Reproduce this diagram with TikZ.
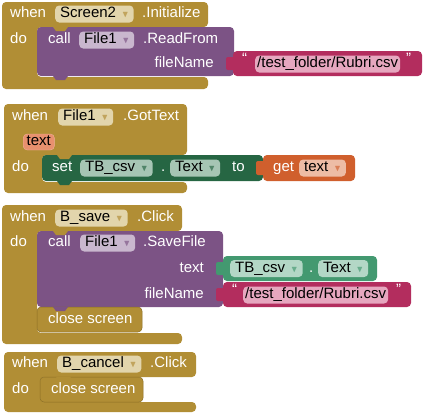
\documentclass[tikz,border=0pt]{standalone}
\usepackage{amssymb}
\usepackage{xcolor}
\usepackage{fontspec}
\setmainfont{Liberation Sans}
\usepackage{tikz}

\definecolor{mustard}{HTML}{B18E35}
\definecolor{mustarddk}{HTML}{8A6C22}
\definecolor{mustardlt}{HTML}{E2D5AC}
\definecolor{purp}{HTML}{7C5385}
\definecolor{purplt}{HTML}{C9B7CE}
\definecolor{pinkblk}{HTML}{B32D5E}
\definecolor{pinklt}{HTML}{E6A7BF}
\definecolor{dgreen}{HTML}{266643}
\definecolor{dgreenlt}{HTML}{A6C5B4}
\definecolor{mgreen}{HTML}{439970}
\definecolor{mgreenlt}{HTML}{B3D7C6}
\definecolor{orng}{HTML}{D05F2D}
\definecolor{orngl}{HTML}{EDBCA5}
\definecolor{salmon}{HTML}{E8906E}

\newcommand{\ddarrow}[1]{\hspace{6pt}{\color{#1}\small$\blacktriangledown$}\hspace{3pt}}

\begin{document}
\begin{tikzpicture}[x=1pt, y=-1pt, font=\fontsize{15}{17}\selectfont,
  txt/.style={text height=10.8pt, text depth=3pt},
  lbl/.style={txt, text=white, inner sep=0pt, anchor=west},
  pill/.style={txt, rounded corners=4pt, inner xsep=5pt, inner ysep=0pt, minimum height=17pt, anchor=west},
  strpill/.style={pill, fill=pinklt, inner xsep=2pt},
  blk/.style={rounded corners=4pt},
  knob/.style={rounded corners=2pt}]
\useasboundingbox (0,0) rectangle (423,413);

% Screen2.Initialize
\fill[mustard, blk] (2,2) -- (208,2) -- (208,27) -- (37,27) -- (37,77) -- (208,77) -- (208,89) -- (2,89) -- cycle;
\fill[purp, blk] (37,27) rectangle (234,76);
\fill[mustard] (53,27) -- ++(3,4) -- ++(9,0) -- ++(3,-4) -- cycle;
\fill[purp] (53,76) -- ++(3,4) -- ++(9,0) -- ++(3,-4) -- cycle;
\fill[pinkblk, blk] (233,51) rectangle (422,76);
\fill[pinkblk, knob] (226,57) rectangle (236,70);
\node[lbl] (when1) at (10,14) {when};
\node[pill, fill=mustardlt] (screen) at (55,14) {Screen2\ddarrow{mustard!80}};
\node[lbl] (init) at (142,14) {.Initialize};
\node[lbl] (do1) at (10,40) {do};
\node[lbl] (call1) at (48,40) {call};
\node[pill, fill=purplt] (file1a) at (79,40) {File1\ddarrow{purp!80}};
\node[lbl] (readfrom) at (143,40) {.ReadFrom};
\node[lbl, anchor=east] (fname1) at (214,64) {fileName};
\node[lbl] (qa) at (242,60) {“};
\node[strpill] (path1) at (255,64) {/test\_folder/Rubri.csv};
\node[lbl] (qb) at (406,60) {”};

% File1.GotText
\fill[mustard, blk] (4,104) -- (187,104) -- (187,155) -- (42,155) -- (42,182) -- (187,182) -- (187,193) -- (4,193) -- cycle;
\fill[dgreen, blk] (42,155) rectangle (263,181);
\fill[mustard] (57,155) -- ++(3,4) -- ++(9,0) -- ++(3,-4) -- cycle;
\fill[dgreen] (57,181) -- ++(3,4) -- ++(9,0) -- ++(3,-4) -- cycle;
\fill[orng, blk] (263,155) rectangle (355,181);
\fill[orng, knob] (256,161) rectangle (266,175);
\node[lbl] (when2) at (12,117) {when};
\node[pill, fill=mustardlt] (file1b) at (58,117) {File1\ddarrow{mustard!80}};
\node[lbl] (gottext) at (123,117) {.GotText};
\node[pill, fill=salmon, draw=salmon!70!white, minimum height=16pt, inner xsep=3.5pt] (param) at (23,142) {text};
\node[lbl] (do2) at (12,168) {do};
\node[lbl] (set) at (52,168) {set};
\node[pill, fill=dgreenlt] (tbcsv1) at (80,168) {TB\_csv\ddarrow{dgreen!80}};
\node[lbl] (dot1) at (161,168) {.};
\node[pill, fill=dgreenlt] (prop1) at (170,168) {Text\ddarrow{dgreen!80}};
\node[lbl] (to) at (232,168) {to};
\node[lbl] (get) at (273,168) {get};
\node[pill, fill=orngl] (gettext) at (299,168) {text\ddarrow{orng!80}};

% B_save.Click
\fill[mustard, blk] (2,205) -- (182,205) -- (182,231) -- (37,231) -- (37,333) -- (182,333) -- (182,344) -- (2,344) -- cycle;
\fill[purp, blk] (37,231) rectangle (223,307);
\fill[mustard, blk, draw=mustarddk, line width=0.5pt] (37,307) rectangle (142,332);
\fill[mustard] (53,231) -- ++(3,4) -- ++(9,0) -- ++(3,-4) -- cycle;
\fill[purp] (53,307) -- ++(3,4) -- ++(9,0) -- ++(3,-4) -- cycle;
\fill[mgreen, blk] (223,256) rectangle (377,281);
\fill[mgreen, knob] (216,262) rectangle (226,275);
\fill[pinkblk, blk] (223,282) rectangle (411,307);
\fill[pinkblk, knob] (216,288) rectangle (226,301);
\node[lbl] (when3) at (10,218) {when};
\node[pill, fill=mustardlt] (bsave) at (55,218) {B\_save\ddarrow{mustard!80}};
\node[lbl] (click1) at (137,218) {.Click};
\node[lbl] (do3) at (10,243) {do};
\node[lbl] (call2) at (48,243) {call};
\node[pill, fill=purplt] (file1c) at (80,243) {File1\ddarrow{purp!80}};
\node[lbl] (savefile) at (143,243) {.SaveFile};
\node[lbl, anchor=east] (textarg) at (204,269) {text};
\node[lbl, anchor=east] (fname2) at (204,295) {fileName};
\node[lbl] (close1) at (48,320) {close screen};
\node[pill, fill=mgreenlt] (tbcsv2) at (230,268.5) {TB\_csv\ddarrow{mgreen!80}};
\node[lbl] (dot2) at (309,268.5) {.};
\node[pill, fill=mgreenlt] (prop2) at (318,268.5) {Text\ddarrow{mgreen!80}};
\node[lbl] (qc) at (232,291) {“};
\node[strpill] (path2) at (243,295) {/test\_folder/Rubri.csv};
\node[lbl] (qd) at (396,291) {”};

% B_cancel.Click
\fill[mustard, blk] (4,352) -- (196,352) -- (196,377) -- (40,377) -- (40,402) -- (196,402) -- (196,412) -- (4,412) -- cycle;
\fill[mustard, blk, draw=mustarddk, line width=0.5pt] (40,377) rectangle (143,402);
\fill[mustard] (56,377) -- ++(3,4) -- ++(9,0) -- ++(3,-4) -- cycle;
\node[lbl] (when4) at (12,364) {when};
\node[pill, fill=mustardlt] (bcancel) at (57,364) {B\_cancel\ddarrow{mustard!80}};
\node[lbl] (click2) at (150,364) {.Click};
\node[lbl] (do4) at (12,390) {do};
\node[lbl] (close2) at (51,390) {close screen};
\end{tikzpicture}
\end{document}
